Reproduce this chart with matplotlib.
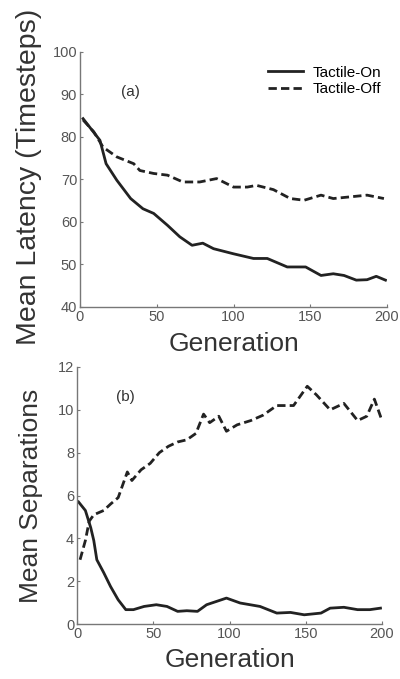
import matplotlib
matplotlib.use("Agg")
import matplotlib.pyplot as plt

plt.rcParams['font.family'] = ['Liberation Sans', 'DejaVu Sans']

# (a) mean latency
gen_lat_on = [2, 13, 17, 24, 33, 41, 48, 57, 65, 73, 80, 87, 100, 113, 122, 135, 147, 157, 165, 172, 180, 187, 193, 199]
lat_on = [84.3, 79.2, 73.7, 69.8, 65.5, 63.1, 62.0, 59.2, 56.5, 54.5, 55.0, 53.7, 52.5, 51.4, 51.4, 49.4, 49.4, 47.4, 47.8, 47.4, 46.3, 46.4, 47.2, 46.3]
gen_lat_off = [2, 9, 15, 24, 35, 39, 48, 57, 67, 78, 89, 100, 109, 115, 126, 137, 146, 157, 165, 176, 187, 198]
lat_off = [84.0, 81.2, 77.6, 75.3, 73.7, 72.1, 71.4, 71.0, 69.4, 69.4, 70.2, 68.2, 68.2, 68.6, 67.6, 65.5, 65.1, 66.3, 65.5, 65.9, 66.3, 65.5]

# (b) mean separations
gen_sep_on = [1, 5.5, 9, 11, 13, 17.5, 22, 27, 32, 37, 44, 52, 59, 66, 72, 79, 85, 98, 107, 120, 131, 140, 149, 160, 166, 175, 184, 192, 199]
sep_on = [5.7, 5.3, 4.5, 3.9, 3.0, 2.4, 1.75, 1.13, 0.67, 0.67, 0.82, 0.9, 0.82, 0.59, 0.62, 0.59, 0.9, 1.21, 0.98, 0.82, 0.51, 0.54, 0.43, 0.51, 0.74, 0.78, 0.67, 0.67, 0.74]
gen_sep_off = [2, 5.5, 8, 11, 17.5, 22, 27, 33, 36, 42, 48, 54, 60, 66, 72, 78, 83, 87, 93, 98, 105, 114, 122, 131, 142, 146, 151, 157, 166, 175, 184, 190, 195, 200]
sep_off = [3.0, 3.9, 4.8, 5.1, 5.3, 5.6, 5.9, 7.1, 6.7, 7.2, 7.5, 8.0, 8.3, 8.5, 8.6, 8.9, 9.8, 9.4, 9.7, 9.0, 9.3, 9.5, 9.75, 10.2, 10.2, 10.6, 11.1, 10.7, 10.0, 10.3, 9.5, 9.7, 10.5, 9.5]

line_col = '#222222'
axis_col = '#777777'
text_col = '#333333'

fig = plt.figure(figsize=(4, 6.79), dpi=100)
ax1 = fig.add_axes([0.2, 0.548, 0.7675, 0.3755])
ax2 = fig.add_axes([0.1925, 0.081, 0.7625, 0.3785])


def style(ax):
    for s in ['top', 'right']:
        ax.spines[s].set_visible(False)
    for s in ['left', 'bottom']:
        ax.spines[s].set_color(axis_col)
        ax.spines[s].set_linewidth(1.0)
    ax.tick_params(direction='in', length=2, color=axis_col, labelsize=10.5,
                   labelcolor='#555555', pad=2)


ax1.plot(gen_lat_on, lat_on, color=line_col, lw=2, label='Tactile-On')
ax1.plot(gen_lat_off, lat_off, color=line_col, lw=2, ls=(0, (3, 1.5)), label='Tactile-Off')
ax1.set_xlim(0, 200)
ax1.set_ylim(40, 100)
ax1.set_xticks([0, 50, 100, 150, 200])
ax1.set_yticks(range(40, 101, 10))
style(ax1)
ax1.set_xlabel('Generation', fontsize=19, color=text_col)
ax1.set_ylabel('Mean Latency (Timesteps)', fontsize=20.5, color=text_col)
ax1.xaxis.set_label_coords(0.5, -0.10)
ax1.yaxis.set_label_coords(-0.124, 0.51)
ax1.text(33, 90.6, '(a)', fontsize=11, ha='center', va='center', color=text_col)
ax1.legend(loc='upper right', frameon=False, fontsize=11, handlelength=2.3,
           handletextpad=0.6, borderaxespad=0.0, labelspacing=0.15,
           bbox_to_anchor=(1.0, 0.97))

ax2.plot(gen_sep_on, sep_on, color=line_col, lw=2)
ax2.plot(gen_sep_off, sep_off, color=line_col, lw=2, ls=(0, (3, 1.5)))
ax2.set_xlim(0, 200)
ax2.set_ylim(0, 12)
ax2.set_xticks([0, 50, 100, 150, 200])
ax2.set_yticks(range(0, 13, 2))
style(ax2)
ax2.set_xlabel('Generation', fontsize=19, color=text_col)
ax2.set_ylabel('Mean Separations', fontsize=19, color=text_col)
ax2.xaxis.set_label_coords(0.5, -0.093)
ax2.yaxis.set_label_coords(-0.111, 0.5)
ax2.text(32, 10.6, '(b)', fontsize=11, ha='center', va='center', color=text_col)

fig.savefig('out.png', dpi=100)
